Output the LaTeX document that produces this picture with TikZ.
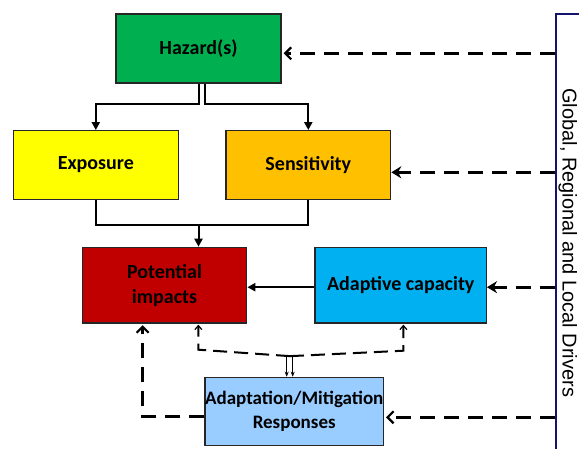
\documentclass[tikz,border=0pt]{standalone}
\usepackage{fontspec}
\setmainfont{Carlito}
\newfontfamily\arialf{Liberation Sans}
\usetikzlibrary{arrows.meta,calc}
\definecolor{hazgreen}{RGB}{0,176,80}
\definecolor{expyellow}{RGB}{255,255,0}
\definecolor{sensorange}{RGB}{255,192,0}
\definecolor{potred}{RGB}{192,0,0}
\definecolor{adcblue}{RGB}{0,176,240}
\definecolor{adplight}{RGB}{153,204,255}
\definecolor{drvnavy}{RGB}{20,20,110}
\begin{document}
\begin{tikzpicture}[x=1pt,y=-1pt,
  box/.style={draw=black!85, line width=1.3pt, rectangle, inner sep=0pt, align=center,
    font=\bfseries\fontsize{20}{25}\selectfont},
  conn/.style={line width=2pt, -{Triangle[length=8pt,width=8pt]}},
  plain/.style={line width=2pt},
  drvarrow/.style={line width=3pt, dash pattern=on 15pt off 9pt},
  fb/.style={line width=2pt, dash pattern=on 14pt off 7pt},
  openhead/.style={-{Straight Barb[length=6pt,width=12pt,line width=2.2pt]}},
  solidhead/.style={-{Stealth[length=10pt,width=12pt]}},
  smallhead/.style={-{Straight Barb[length=4pt,width=7pt,line width=1.2pt]}}
]
\useasboundingbox (0,0) rectangle (579,448);
\clip (0,0) rectangle (579,448);

\node[box, fill=hazgreen, minimum width=165pt, minimum height=69pt] (haz) at (198.5,48.5) {Hazard(s)};
\node[box, fill=expyellow, minimum width=165pt, minimum height=68.6pt] (expo) at (95.8,165) {Exposure};
\node[box, fill=sensorange, minimum width=164.7pt, minimum height=68.6pt] (sens) at (308.3,165) {Sensitivity};
\node[box, fill=potred, minimum width=164.4pt, minimum height=75.7pt] (pot) at (164.5,285.2) {Potential\\impacts};
\node[box, fill=adcblue, minimum width=171.3pt, minimum height=75.7pt] (adc) at (400.7,285.2) {Adaptive capacity};
\node[box, fill=adplight, minimum width=178.3pt, minimum height=68.4pt, font=\bfseries\fontsize{19}{23.5}\selectfont] (adp) at (294.2,411.5) {Adaptation/Mitigation\\Responses};

\node[draw=drvnavy, line width=2pt, minimum width=150pt, minimum height=470pt, anchor=north west, inner sep=0pt] (drv) at (554.7,13.3) {};
\node[rotate=-90, anchor=base west, inner sep=0pt, font=\arialf\fontsize{20}{24}\selectfont] (drvtext) at (562.5,88) {Global, Regional and Local Drivers};

% hazard to exposure / sensitivity
\draw[conn] ($(haz.south)+(0.5,0)$) -- ++(0,20) -| (expo.north);
\draw[conn] ($(haz.south)+(6.5,0)$) -- ++(0,20) -| (sens.north);

% exposure + sensitivity to potential impacts
\draw[plain] (expo.south) -- ++(0,25) coordinate (ej) -| (sens.south);
\draw[conn] (haz.south |- ej) -- (haz.south |- pot.north);

% adaptive capacity to potential impacts
\draw[conn] ($(adc.west)+(0,2)$) -- ($(pot.east)+(0,2)$);

% driver arrows
\draw[drvarrow, openhead] ($(drv.west |- haz.east)+(0,4.8)$) -- ($(haz.east)+(2,4.8)$);
\draw[drvarrow, solidhead] ($(drv.west |- sens.east)+(0,7.3)$) -- ($(sens.east)+(0,7.3)$);
\draw[drvarrow, solidhead] ($(drv.west |- adc.east)+(0,2)$) -- ($(adc.east)+(0,2)$);
\draw[drvarrow, openhead] ($(drv.west |- adp.east)+(0,5.8)$) -- ($(adp.east)+(2,5.8)$);

% feedback from responses to potential impacts
\draw[drvarrow, openhead] ($(adp.west)+(0,5.2)$) -| ($(pot.south west)+(61,1.5)$);

% responses link
\coordinate (mid) at ($(adp.north)+(-4.2,-20.5)$);
\draw[fb, smallhead] (mid) -- ($(pot.south west)+(116.7,26)$) -- ($(pot.south west)+(116.7,1)$);
\draw[fb, smallhead] (mid) -- ($(adc.south west)+(89,27)$) -- ($(adc.south west)+(89,1)$);
\draw[line width=1.2pt, -{Stealth[length=5pt,width=4pt]}] ($(adp.north)+(-7.5,-20.5)$) -- ($(adp.north)+(-7.5,0)$);
\draw[line width=1.2pt, -{Stealth[length=5pt,width=4pt]}] ($(adp.north)+(-1.5,-20.5)$) -- ($(adp.north)+(-1.5,0)$);
\end{tikzpicture}
\end{document}
